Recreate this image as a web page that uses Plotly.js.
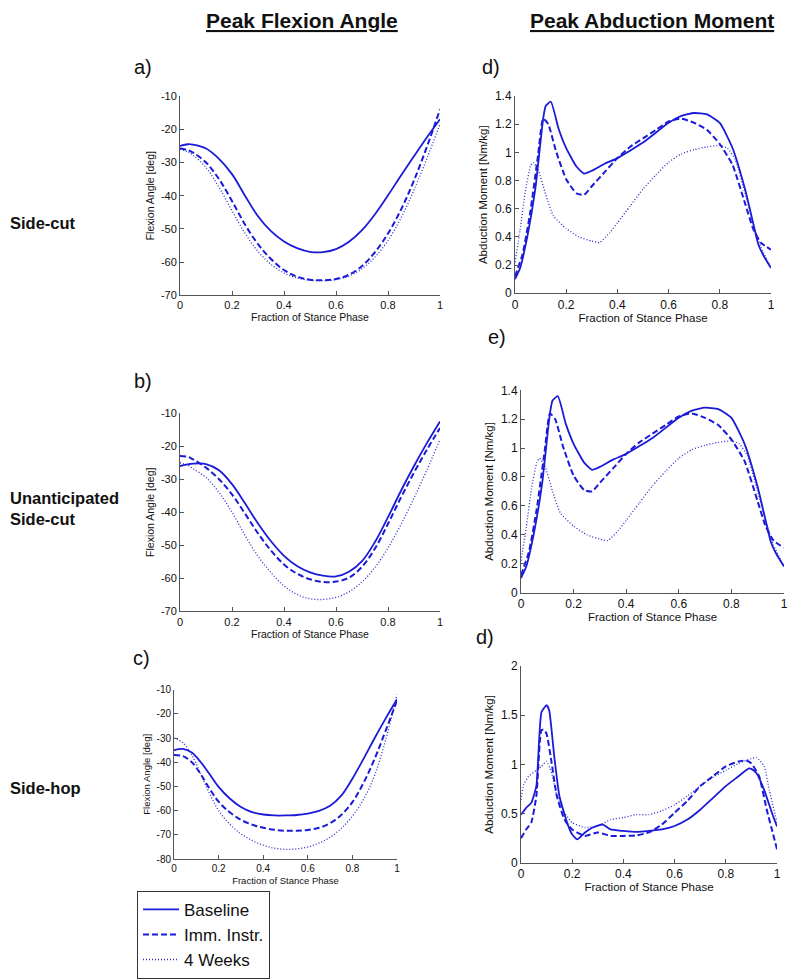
<!DOCTYPE html>
<html>
<head>
<meta charset="utf-8">
<script src="https://cdn.plot.ly/plotly-3.0.1.min.js"></script>
<style>html,body{margin:0;padding:0;background:#fff;}#chart{width:800px;height:979px;}</style>
</head>
<body>
<div id="chart"></div>
<script>
// ---------- DATA ----------
const seriesNames = ["Baseline", "Imm. Instr.", "4 Weeks"];
const xTicks = [0, 0.2, 0.4, 0.6, 0.8, 1];
const xTickText = ["0", "0.2", "0.4", "0.6", "0.8", "1"];

// a) Side-cut, flexion angle
const aX    = [0,0.03,0.05,0.1,0.15,0.2,0.25,0.3,0.35,0.4,0.45,0.5,0.55,0.6,0.65,0.7,0.75,0.8,0.85,0.9,0.95,1];
const aBase = [-25,-24.5,-24.6,-25.8,-28.9,-33.5,-40,-46.2,-50.7,-53.8,-55.8,-56.9,-57,-56.1,-53.9,-50.4,-45.6,-39.9,-33.9,-28.1,-22.4,-17];
const aImm  = [-25.8,-26.3,-27,-30,-35,-41.6,-48.7,-54.6,-59.1,-62.4,-64.4,-65.3,-65.5,-65.1,-63.8,-61.2,-57,-51.4,-44.2,-35.4,-25.2,-14];
const aWk   = [-26,-26.8,-27.8,-31.5,-37.5,-44.5,-51.3,-56.8,-60.7,-63.3,-64.8,-65.5,-65.6,-65.3,-64.2,-62,-58.5,-53.5,-46.7,-38.3,-28.7,-18.5];

// b) Unanticipated side-cut, flexion angle
const bX    = [0,0.03,0.05,0.1,0.15,0.2,0.25,0.3,0.35,0.4,0.45,0.5,0.55,0.6,0.65,0.7,0.75,0.8,0.85,0.9,0.95,1];
const bBase = [-26,-25.5,-25.3,-25.4,-27.3,-31.5,-37.3,-43.4,-48.8,-53.2,-56.3,-58.2,-59.2,-59.4,-58,-54.8,-49,-41.5,-33.5,-26,-19,-12.5];
const bImm  = [-23,-23.2,-24,-26.5,-30,-34.6,-40.4,-46.4,-51.6,-55.8,-58.6,-60.3,-61.1,-61,-59.8,-56.5,-51,-43.5,-35.5,-28,-21,-14.5];
const bWk   = [-25,-25.8,-26.8,-29.5,-34,-40,-47,-53.3,-58.3,-62.3,-64.9,-66.2,-66.4,-65.8,-64.1,-61.1,-56.7,-50.8,-43.7,-35.7,-27.1,-18];

// c) Side-hop, flexion angle
const cX    = [0,0.04,0.08,0.12,0.16,0.2,0.25,0.3,0.35,0.4,0.45,0.5,0.55,0.6,0.65,0.7,0.75,0.8,0.85,0.9,0.95,1];
const cBase = [-35,-34.5,-36,-40,-45,-50.2,-55,-58.5,-60.6,-61.6,-62,-62,-61.8,-61.2,-60.1,-58,-53.8,-46.8,-38.6,-30,-21.8,-14];
const cImm  = [-37,-37.5,-40,-45,-51,-56.3,-60.7,-63.8,-65.8,-67.1,-67.9,-68.3,-68.3,-68,-67.1,-65.2,-61.8,-56.5,-48.5,-38.5,-26.8,-14.5];
const cWk   = [-30,-32,-37,-45,-53,-60,-65.6,-69.6,-72.3,-74.3,-75.5,-76,-75.8,-75,-73.4,-71,-67.3,-62.3,-55.3,-45.3,-30.5,-12];

// d) Side-cut, abduction moment
const dBaseX = [0,0.02,0.05,0.08,0.11,0.12,0.14,0.17,0.2,0.24,0.27,0.3,0.35,0.4,0.5,0.6,0.65,0.7,0.75,0.8,0.85,0.9,0.93,0.95,0.97,1];
const dBase  = [0.10,0.18,0.42,0.75,1.24,1.33,1.36,1.17,1.03,0.9,0.85,0.87,0.92,0.96,1.07,1.21,1.26,1.28,1.27,1.21,1.03,0.73,0.5,0.35,0.27,0.18];
const dImmX  = [0,0.03,0.06,0.09,0.11,0.13,0.16,0.2,0.24,0.27,0.3,0.35,0.4,0.45,0.5,0.55,0.6,0.65,0.7,0.75,0.8,0.85,0.9,0.93,0.96,1];
const dImm   = [0.12,0.28,0.58,0.98,1.24,1.2,1.01,0.81,0.71,0.7,0.76,0.86,0.96,1.04,1.1,1.16,1.22,1.24,1.21,1.16,1.06,0.91,0.63,0.46,0.36,0.31];
const dWkX   = [0,0.02,0.04,0.06,0.07,0.09,0.12,0.15,0.2,0.25,0.3,0.33,0.37,0.4,0.45,0.5,0.55,0.6,0.65,0.7,0.75,0.8,0.83,0.86,0.9,0.93,0.96,1];
const dWk    = [0.22,0.45,0.72,0.9,0.93,0.88,0.7,0.55,0.46,0.4,0.37,0.36,0.43,0.5,0.62,0.74,0.84,0.93,0.99,1.02,1.04,1.05,1.03,0.95,0.7,0.5,0.33,0.18];

// e) Unanticipated side-cut, abduction moment
const eBaseX = [0,0.02,0.05,0.08,0.11,0.12,0.14,0.17,0.2,0.24,0.27,0.3,0.35,0.4,0.5,0.6,0.65,0.7,0.75,0.8,0.85,0.9,0.93,0.95,0.97,1];
const eBase  = [0.10,0.18,0.42,0.75,1.24,1.33,1.36,1.17,1.03,0.9,0.85,0.87,0.92,0.96,1.07,1.21,1.26,1.28,1.27,1.21,1.03,0.73,0.5,0.35,0.27,0.18];
const eImmX  = [0,0.03,0.06,0.09,0.11,0.13,0.16,0.2,0.24,0.27,0.3,0.35,0.4,0.45,0.5,0.55,0.6,0.65,0.7,0.75,0.8,0.85,0.9,0.93,0.96,1];
const eImm   = [0.12,0.28,0.58,0.98,1.24,1.2,1.01,0.81,0.71,0.7,0.76,0.86,0.96,1.04,1.1,1.16,1.22,1.24,1.21,1.16,1.06,0.91,0.63,0.46,0.36,0.31];
const eWkX   = [0,0.02,0.04,0.06,0.07,0.09,0.12,0.15,0.2,0.25,0.3,0.33,0.37,0.4,0.45,0.5,0.55,0.6,0.65,0.7,0.75,0.8,0.83,0.86,0.9,0.93,0.96,1];
const eWk    = [0.22,0.45,0.72,0.9,0.93,0.88,0.7,0.55,0.46,0.4,0.37,0.36,0.43,0.5,0.62,0.74,0.84,0.93,0.99,1.02,1.04,1.05,1.03,0.95,0.7,0.5,0.33,0.18];

// f) Side-hop, abduction moment (labelled "d)" in the figure)
const fBaseX = [0,0.02,0.04,0.06,0.08,0.1,0.11,0.13,0.15,0.18,0.2,0.22,0.25,0.28,0.3,0.32,0.35,0.4,0.45,0.5,0.55,0.6,0.65,0.7,0.75,0.8,0.85,0.89,0.9,0.92,0.95,0.98,1];
const fBase  = [0.49,0.56,0.61,0.78,1.53,1.6,1.55,1.08,0.68,0.41,0.29,0.24,0.31,0.36,0.38,0.39,0.34,0.325,0.315,0.325,0.34,0.375,0.44,0.54,0.66,0.78,0.88,0.96,0.955,0.91,0.74,0.51,0.37];
const fImmX  = [0,0.02,0.04,0.06,0.08,0.09,0.1,0.12,0.14,0.17,0.2,0.25,0.3,0.35,0.4,0.45,0.5,0.55,0.6,0.65,0.7,0.75,0.8,0.85,0.88,0.9,0.93,0.96,0.98,1];
const fImm   = [0.25,0.34,0.41,0.68,1.35,1.35,1.31,1.01,0.68,0.44,0.34,0.275,0.31,0.275,0.275,0.28,0.31,0.39,0.51,0.63,0.78,0.88,0.98,1.03,1.04,1.01,0.88,0.54,0.34,0.14];
const fWkX   = [0,0.01,0.03,0.06,0.08,0.1,0.12,0.14,0.17,0.2,0.25,0.3,0.35,0.4,0.45,0.5,0.55,0.6,0.65,0.7,0.75,0.8,0.85,0.9,0.92,0.95,0.97,1];
const fWk    = [0.64,0.79,0.88,0.94,0.98,1.03,0.91,0.68,0.51,0.41,0.36,0.375,0.44,0.46,0.49,0.49,0.53,0.59,0.68,0.78,0.87,0.94,1.01,1.06,1.07,0.98,0.74,0.41];

const flexTicksAB = [-70,-60,-50,-40,-30,-20,-10];
const flexTicksC  = [-80,-70,-60,-50,-40,-30,-20,-10];
const abdTicksDE  = [0,0.2,0.4,0.6,0.8,1,1.2,1.4];
const abdTicksDEText = ["0","0.2","0.4","0.6","0.8","1","1.2","1.4"];
const abdTicksF   = [0,0.5,1,1.5,2];
const abdTicksFText = ["0","0.5","1","1.5","2"];

// ---------- STYLE ----------
const W = 800, H = 979;
const BLUE = "#1a1ad8";
const FONT = "Liberation Sans, Arial, sans-serif";
const styles = [
  {color: BLUE, width: 1.8, dash: "solid"},
  {color: BLUE, width: 2.0, dash: "6px,3px"},
  {color: "#2a2ad0", width: 1.3, dash: "1px,2px"}
];
function px2x(p){ return p / W; }
function px2y(p){ return 1 - p / H; }

const panels = [
  {ax:"", xs:[aX,aX,aX], ys:[aBase,aImm,aWk], box:[180,440,97,298], yr:[-70,-10], yt:flexTicksAB, ytt:null, ytitle:"Flexion Angle [deg]", fs:11, tfs:10.5, sm:1.0, xst:2, legend:true},
  {ax:"2", xs:[bX,bX,bX], ys:[bBase,bImm,bWk], box:[180,440,417,617], yr:[-70,-10], yt:flexTicksAB, ytt:null, ytitle:"Flexion Angle [deg]", fs:11, tfs:10.5, sm:1.0, xst:2},
  {ax:"3", xs:[cX,cX,cX], ys:[cBase,cImm,cWk], box:[174,397,696,867], yr:[-80,-10], yt:flexTicksC, ytt:null, ytitle:"Flexion Angle [deg]", fs:10, tfs:9.5, sm:1.0, xst:4},
  {ax:"4", xs:[dBaseX,dImmX,dWkX], ys:[dBase,dImm,dWk], box:[515,771,97,296], yr:[0,1.4], yt:abdTicksDE, ytt:abdTicksDEText, ytitle:"Abduction Moment [Nm/kg]", fs:12, tfs:11.5, sm:0.5, xst:1},
  {ax:"5", xs:[eBaseX,eImmX,eWkX], ys:[eBase,eImm,eWk], box:[521,784,394,598], yr:[0,1.4], yt:abdTicksDE, ytt:abdTicksDEText, ytitle:"Abduction Moment [Nm/kg]", fs:12, tfs:11.5, sm:0.5, xst:1},
  {ax:"6", xs:[fBaseX,fImmX,fWkX], ys:[fBase,fImm,fWk], box:[521,777,672,871], yr:[0,2], yt:abdTicksF, ytt:abdTicksFText, ytitle:"Abduction Moment [Nm/kg]", fs:12, tfs:11.5, sm:0.5, xst:2}
];

const traces = [];
const layout = {
  width: W, height: H,
  margin: {l:0, r:0, t:0, b:0},
  paper_bgcolor: "#fff", plot_bgcolor: "#fff",
  font: {family: FONT, color: "#111"},
  showlegend: true,
  legend: {
    x: px2x(137), y: px2y(899), xanchor: "left", yanchor: "top",
    bgcolor: "#fff", bordercolor: "#333", borderwidth: 1,
    font: {family: FONT, size: 17, color: "#111"},
    tracegroupgap: 0, itemwidth: 36
  },
  annotations: []
};

panels.forEach((p, i) => {
  const xa = "x" + p.ax, ya = "y" + p.ax;
  for (let k = 0; k < 3; k++) {
    traces.push({
      type: "scatter", mode: "lines",
      x: p.xs[k], y: p.ys[k],
      xaxis: xa, yaxis: ya,
      name: seriesNames[k],
      showlegend: !!p.legend,
      line: {color: styles[k].color, width: styles[k].width, dash: styles[k].dash,
             shape: "spline", smoothing: p.sm},
      hoverinfo: "skip"
    });
  }
  const common = {
    showgrid: false, zeroline: false, showline: true,
    linecolor: "#555", linewidth: 1, ticks: "inside", ticklen: 4,
    tickcolor: "#555", tickwidth: 1, mirror: false,
    tickfont: {family: FONT, size: p.fs, color: "#111"}
  };
  layout["xaxis" + p.ax] = Object.assign({}, common, {
    domain: [px2x(p.box[0]), px2x(p.box[1])],
    range: [0, 1], anchor: ya,
    tickmode: "array", tickvals: xTicks, ticktext: xTickText,
    title: {text: "Fraction of Stance Phase", font: {family: FONT, size: p.tfs, color: "#111"}, standoff: p.xst}
  });
  layout["yaxis" + p.ax] = Object.assign({}, common, {
    domain: [px2y(p.box[3]), px2y(p.box[2])],
    range: p.yr, anchor: xa,
    tickmode: "array", tickvals: p.yt,
    ticktext: p.ytt ? p.ytt : p.yt.map(v => String(v)),
    title: {text: p.ytitle, font: {family: FONT, size: p.tfs, color: "#111"}, standoff: 4}
  });
});

// panel letters
const letters = [
  {t:"a)", x:132, y:68}, {t:"b)", x:132, y:385}, {t:"c)", x:131, y:664},
  {t:"d)", x:480, y:68}, {t:"e)", x:486, y:340}, {t:"d)", x:474, y:643}
];
letters.forEach(l => layout.annotations.push({
  text: l.t, xref: "paper", yref: "paper", x: px2x(l.x), y: px2y(l.y),
  xanchor: "left", yanchor: "middle", showarrow: false,
  font: {family: FONT, size: 20, color: "#111"}
}));

// column titles
[{t:"Peak Flexion Angle", x:302}, {t:"Peak Abduction Moment", x:652}].forEach(c => layout.annotations.push({
  text: "<b>" + c.t + "</b>", xref: "paper", yref: "paper", x: px2x(c.x), y: px2y(21),
  xanchor: "center", yanchor: "middle", showarrow: false,
  font: {family: "Liberation Sans Narrow, Arial Narrow, Liberation Sans, sans-serif", size: 21, color: "#111", weight: 700, lineposition: "under"}
}));

// row labels
[{t:"Side-cut", y:225}, {t:"Unanticipated<br>Side-cut", y:513}, {t:"Side-hop", y:795}].forEach(r => layout.annotations.push({
  text: "<b>" + r.t + "</b>", xref: "paper", yref: "paper", x: px2x(8), y: px2y(r.y),
  xanchor: "left", yanchor: "middle", align: "left", showarrow: false,
  font: {family: FONT, size: 16.5, color: "#111"}
}));

Plotly.newPlot("chart", traces, layout, {staticPlot: true, displayModeBar: false});
</script>
</body>
</html>
